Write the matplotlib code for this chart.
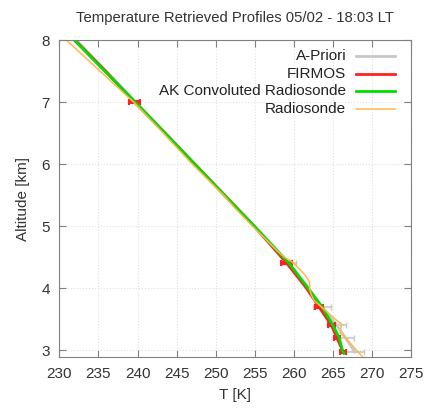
import matplotlib
matplotlib.use('Agg')
import matplotlib.pyplot as plt

plt.rcParams['font.family'] = ['Liberation Sans', 'DejaVu Sans']

TITLE = 'Temperature Retrieved Profiles 05/02 - 18:03 LT'

# A-priori profile
apriori_z = [8.1, 7.5, 7.0, 6.0, 5.0, 4.4, 4.0, 3.7, 3.4, 3.2, 2.97]
apriori_t = [231.4, 236.0, 239.8, 247.4, 255.0, 259.4, 261.9, 263.6, 265.5, 266.6, 267.8]
apriori_err_z = [4.4, 3.7, 3.4, 3.2, 2.97]
apriori_err_t = [259.4, 263.6, 265.5, 266.6, 267.8]
apriori_err = [0.9, 1.2, 1.1, 1.1, 1.1]

# FIRMOS retrieval
firmos_z = [8.1, 7.5, 7.0, 6.5, 6.0, 5.5, 5.0, 4.7, 4.4, 4.0, 3.7, 3.4, 3.2, 2.97]
firmos_t = [231.2, 235.9, 239.6, 243.5, 247.3, 251.1, 254.9, 257.0, 259.1, 261.6, 263.2, 264.8, 265.5, 266.3]
firmos_err_z = [7.0, 4.4, 3.7, 3.4, 3.2, 2.97]
firmos_err_t = [239.6, 259.1, 263.2, 264.8, 265.5, 266.3]
firmos_err = [0.7, 0.7, 0.5, 0.4, 0.4, 0.4]

# AK convoluted radiosonde
ak_z = [8.1, 8.0, 7.0, 6.0, 5.0, 4.4, 4.0, 3.7, 3.4, 3.2, 3.0, 2.95]
ak_t = [231.1, 231.9, 239.7, 247.3, 254.9, 259.4, 261.8, 263.6, 265.0, 265.8, 266.2, 266.4]

# Radiosonde
sonde_z = [8.1, 8.0, 7.5, 7.0, 6.5, 6.0, 5.5, 5.3, 5.0, 4.8, 4.6, 4.5, 4.42, 4.3, 4.2, 4.1,
           4.0, 3.9, 3.8, 3.7, 3.6, 3.5, 3.42, 3.35, 3.28, 3.2, 3.1, 3.0, 2.88]
sonde_t = [230.0, 230.9, 235.2, 239.5, 243.3, 247.0, 251.0, 252.4, 254.7, 256.3, 257.9, 258.8,
           259.8, 260.8, 261.5, 262.0, 262.0, 262.2, 262.6, 263.5, 264.4, 265.3, 266.1, 266.0,
           265.9, 266.6, 267.3, 268.0, 268.9]

C_GRAY = '#c8c8c8'
C_RED = '#ff2020'
C_GREEN = '#00dd00'
C_ORANGE = '#ffb84d'
FS = 11


def main():
    fig = plt.figure(figsize=(4.27, 4.09), dpi=100)
    ax = fig.add_axes([0.139, 0.127, 0.824, 0.775])

    ax.plot(apriori_t, apriori_z, color=C_GRAY, lw=2)
    ax.errorbar(apriori_err_t, apriori_err_z, xerr=apriori_err, fmt='none', ecolor=C_GRAY,
                elinewidth=1.2, capsize=2.5)
    ax.plot(firmos_t, firmos_z, color=C_RED, lw=2)
    ax.errorbar(firmos_err_t, firmos_err_z, xerr=firmos_err, fmt='none', ecolor=C_RED,
                elinewidth=3, capsize=2.5, capthick=1.5)
    ax.plot(ak_t, ak_z, color=C_GREEN, lw=2)
    ax.plot(sonde_t, sonde_z, color=C_ORANGE, lw=1.1)

    ax.set_xlim(230, 275)
    ax.set_ylim(2.89, 8)
    ax.set_xticks(range(230, 276, 5))
    ax.set_yticks(range(3, 9))
    ax.tick_params(direction='in', top=True, right=True, length=5, color='#808080',
                   labelsize=FS, labelcolor='#333333', pad=7)
    for s in ax.spines.values():
        s.set_color('#808080')
    ax.grid(True, color='#e0e0e0', ls=':', lw=0.8)

    ax.set_xlabel('T [K]', fontsize=FS, color='#333333', labelpad=5)
    ax.set_ylabel('Altitude [km]', fontsize=FS, color='#333333', labelpad=8)
    ax.set_title(TITLE, fontsize=10.7, color='#333333', pad=13)

    # gnuplot-style key: text right aligned, sample on the right
    labels = ['A-Priori', 'FIRMOS', 'AK Convoluted Radiosonde', 'Radiosonde']
    colors = [C_GRAY, C_RED, C_GREEN, C_ORANGE]
    widths = [2, 2, 2, 1.1]
    for i, (lab, col, w) in enumerate(zip(labels, colors, widths)):
        y = 0.95 - i * 0.056
        ax.text(0.815, y, lab, transform=ax.transAxes, ha='right', va='center',
                fontsize=FS, color='#222222')
        ax.plot([0.842, 0.953], [y, y], transform=ax.transAxes, color=col, lw=w)

    plt.savefig('out.png', dpi=100)


if __name__ == '__main__':
    main()
